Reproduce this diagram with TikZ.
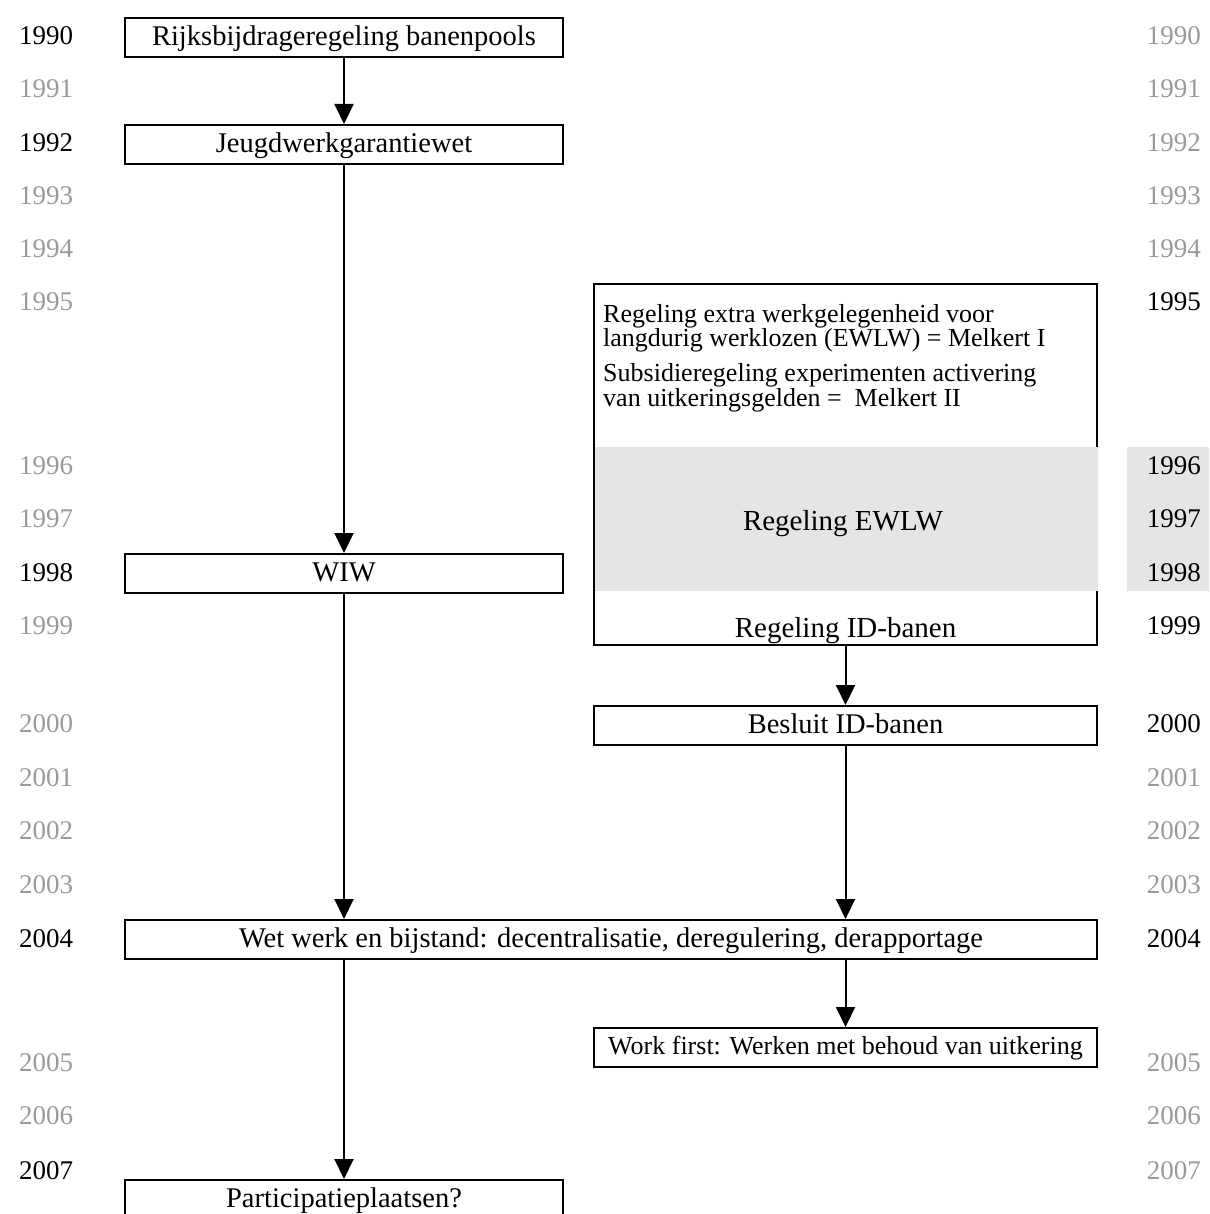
\documentclass[tikz,border=0pt]{standalone}
\usepackage{fontspec}
\setmainfont{Liberation Serif}
\usetikzlibrary{arrows.meta}
\definecolor{yeargray}{HTML}{9A9A9A}
\definecolor{bandgray}{HTML}{E5E5E5}
\begin{document}
\begin{tikzpicture}[x=1pt,y=-1pt,
  box/.style={draw=black,line width=2pt,fill=white,inner sep=0pt,text height=20pt,text depth=4pt,font=\fontsize{28.5}{32}\selectfont},
  arr/.style={line width=2pt,-{Triangle[length=20pt,width=19pt]}},
  yl/.style={anchor=west,inner sep=0pt,font=\fontsize{27}{30}\selectfont},
  yr/.style={anchor=east,inner sep=0pt,font=\fontsize{27}{30}\selectfont},
  gy/.style={text=yeargray},
  small/.style={font=\fontsize{26}{23.5}\selectfont}]
\useasboundingbox (0,0) rectangle (1209,1214);
% gray band at right years
\fill[bandgray] (1127,447) rectangle (1209,591);
% big box
\node[draw=black,line width=2pt,minimum width=503pt,minimum height=361pt,inner sep=0pt] (big) at (845.5,464.5) {};
\fill[bandgray] (595,447) rectangle (1098,591);
\node[small,anchor=north west,align=left,inner sep=0pt] (t1) at (603,304) {Regeling extra werkgelegenheid voor\\langdurig werklozen (EWLW) = Melkert I\\[10pt]Subsidieregeling experimenten activering\\van uitkeringsgelden =\ \ Melkert II};
\node[font=\fontsize{29}{32}\selectfont,inner sep=0pt,text height=20pt,text depth=4pt] (t2) at (843,522) {Regeling EWLW};
\node[font=\fontsize{29}{32}\selectfont,inner sep=0pt,text height=20pt,text depth=4pt] (t3) at (845.5,629) {Regeling ID-banen};
% boxes
\node[box,minimum width=438pt,minimum height=39pt] (b1) at (344,37.5) {Rijksbijdrageregeling banenpools};
\node[box,minimum width=438pt,minimum height=39pt] (b2) at (344,144.5) {Jeugdwerkgarantiewet};
\node[box,minimum width=438pt,minimum height=39pt] (wiw) at (344,573.5) {WIW};
\node[box,minimum width=503pt,minimum height=39pt] (bes) at (845.5,725.5) {Besluit ID-banen};
\node[box,minimum width=972pt,minimum height=39pt] (wwb) at (611,939.5) {Wet werk en bijstand: decentralisatie, deregulering, derapportage};
\node[box,minimum width=503pt,minimum height=39pt,font=\fontsize{26}{30}\selectfont,text height=18pt] (wf) at (845.5,1047.5) {Work first: Werken met behoud van uitkering};
\node[box,minimum width=438pt,minimum height=39pt] (part) at (344,1199.5) {Participatieplaatsen?};
% connectors
\draw[arr] (b1.south) -- (b2.north);
\draw[arr] (b2.south) -- (wiw.north);
\draw[arr] (wiw.south) -- (wiw.south |- wwb.north);
\draw[arr] (big.south) -- (bes.north);
\draw[arr] (bes.south) -- (bes.south |- wwb.north);
\draw[arr] (wwb.south -| wf.north) -- (wf.north);
\draw[arr] (wwb.south -| part.north) -- (part.north);
% left years
\node[yl] (l90) at (19,36) {1990};
\node[yl,gy] (l91) at (19,89) {1991};
\node[yl] (l92) at (19,143) {1992};
\node[yl,gy] (l93) at (19,196) {1993};
\node[yl,gy] (l94) at (19,249) {1994};
\node[yl,gy] (l95) at (19,302) {1995};
\node[yl,gy] (l96) at (19,466) {1996};
\node[yl,gy] (l97) at (19,519) {1997};
\node[yl] (l98) at (19,573) {1998};
\node[yl,gy] (l99) at (19,626) {1999};
\node[yl,gy] (l00) at (19,724) {2000};
\node[yl,gy] (l01) at (19,778) {2001};
\node[yl,gy] (l02) at (19,831) {2002};
\node[yl,gy] (l03) at (19,885) {2003};
\node[yl] (l04) at (19,939) {2004};
\node[yl,gy] (l05) at (19,1063) {2005};
\node[yl,gy] (l06) at (19,1116) {2006};
\node[yl] (l07) at (19,1171) {2007};
% right years
\node[yr,gy] (r90) at (1201,36) {1990};
\node[yr,gy] (r91) at (1201,89) {1991};
\node[yr,gy] (r92) at (1201,143) {1992};
\node[yr,gy] (r93) at (1201,196) {1993};
\node[yr,gy] (r94) at (1201,249) {1994};
\node[yr] (r95) at (1201,302) {1995};
\node[yr] (r96) at (1201,466) {1996};
\node[yr] (r97) at (1201,519) {1997};
\node[yr] (r98) at (1201,573) {1998};
\node[yr] (r99) at (1201,626) {1999};
\node[yr] (r00) at (1201,724) {2000};
\node[yr,gy] (r01) at (1201,778) {2001};
\node[yr,gy] (r02) at (1201,831) {2002};
\node[yr,gy] (r03) at (1201,885) {2003};
\node[yr] (r04) at (1201,939) {2004};
\node[yr,gy] (r05) at (1201,1063) {2005};
\node[yr,gy] (r06) at (1201,1116) {2006};
\node[yr,gy] (r07) at (1201,1171) {2007};
\end{tikzpicture}
\end{document}
